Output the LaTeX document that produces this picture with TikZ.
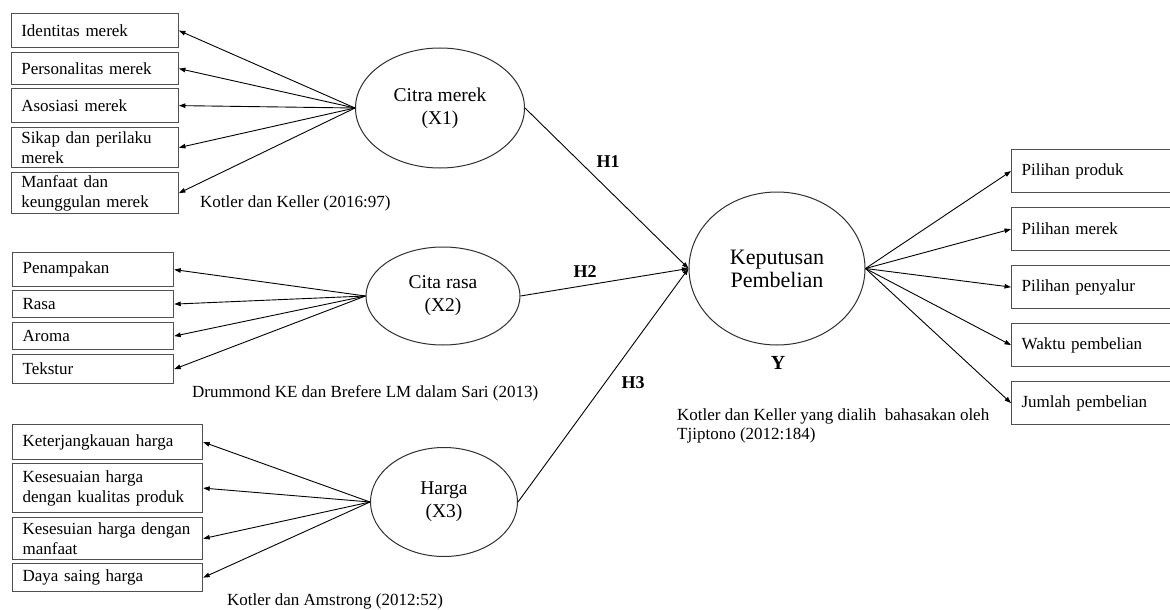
\documentclass[tikz,border=0pt]{standalone}
\usepackage{fontspec}
\setmainfont{Liberation Serif}
\usetikzlibrary{arrows.meta,shapes.geometric}
\definecolor{boxgray}{HTML}{505050}
\definecolor{ellgray}{HTML}{303030}
\tikzset{
  box/.style={draw=boxgray, line width=1.2pt, rectangle, inner xsep=10pt, inner ysep=0pt,
    anchor=north west, align=left, font=\fontsize{17}{20}\selectfont},
  latent/.style={draw=ellgray, line width=1pt, ellipse, inner sep=0pt, align=center,
    font=\fontsize{19.5}{23}\selectfont},
  arr/.style={line width=0.9pt, -{Triangle[length=6.5pt,width=4.5pt]}},
  cite/.style={inner sep=0pt, anchor=west, align=left, font=\fontsize{17}{18.5}\selectfont},
  hlab/.style={inner sep=0pt, font=\fontsize{18}{20}\selectfont\bfseries},
}
\begin{document}
\begin{tikzpicture}[x=1pt,y=-1pt]
\useasboundingbox (0,0) rectangle (1170,610);
\fill[white] (0,0) rectangle (1170,610);
% Group 1
\node[box, text width=147pt, minimum height=34pt] (i1) at (10.7,13) {Identitas merek};
\node[box, text width=147pt, minimum height=32pt] (i2) at (10.7,52) {Personalitas merek};
\node[box, text width=147pt, minimum height=34pt] (i3) at (10.7,88) {Asosiasi merek};
\node[box, text width=147pt, minimum height=40pt] (i4) at (10.7,127) {Sikap dan perilaku\\merek};
\node[box, text width=147pt, minimum height=41pt] (i5) at (10.7,172) {Manfaat dan\\keunggulan merek};
\node[latent, minimum width=169pt, minimum height=120pt] (c1) at (440,108) {Citra merek\\(X1)};
\foreach \b in {i1,i2,i3,i4,i5} \draw[arr] (c1.west) -- (\b.east);
\node[cite] (ct1) at (200,203) {Kotler dan Keller (2016:97)};
% Group 2
\node[box, text width=141pt, minimum height=34pt] (p1) at (12,252) {Penampakan};
\node[box, text width=141pt, minimum height=27pt] (p2) at (12,290) {Rasa};
\node[box, text width=141pt, minimum height=27pt] (p3) at (12,322) {Aroma};
\node[box, text width=141pt, minimum height=29pt] (p4) at (12,354) {Tekstur};
\node[latent, minimum width=154pt, minimum height=98pt] (c2) at (443,296) {Cita rasa\\(X2)};
\foreach \b in {p1,p2,p3,p4} \draw[arr] (c2.west) -- (\b.east);
\node[cite] (ct2) at (192,393) {Drummond KE dan Brefere LM dalam Sari (2013)};
% Group 3
\node[box, text width=170pt, minimum height=35pt] (h1) at (12,424) {Keterjangkauan harga};
\node[box, text width=170pt, minimum height=49pt] (h2) at (12,463) {Kesesuaian harga\\dengan kualitas produk};
\node[box, text width=170pt, minimum height=42pt] (h3) at (12,517) {Kesesuian harga dengan\\manfaat};
\node[box, text width=170pt, minimum height=28pt] (h4) at (12,563) {Daya saing harga};
\node[latent, minimum width=147pt, minimum height=109pt] (c3) at (444,502) {Harga\\(X3)};
\foreach \b in {h1,h2,h3,h4} \draw[arr] (c3.west) -- (\b.east);
\node[cite] (ct3) at (227,601) {Kotler dan Amstrong (2012:52)};
% Dependent
\node[latent, minimum width=176pt, minimum height=153pt, font=\fontsize{22}{23}\selectfont] (kp) at (777,268.5) {Keputusan\\Pembelian};
\draw[arr] (c1.east) -- (kp.west);
\draw[arr] (c2.east) -- (kp.west);
\draw[arr] (c3.east) -- (kp.west);
\node[hlab] (l1) at (608,162) {H1};
\node[hlab] (l2) at (585,272) {H2};
\node[hlab] (l3) at (633,383) {H3};
\node[hlab, font=\fontsize{20}{22}\selectfont\bfseries] (ly) at (778,363) {Y};
% Right boxes
\node[box, text width=150pt, minimum height=43pt] (r1) at (1011,149) {Pilihan produk};
\node[box, text width=150pt, minimum height=43pt] (r2) at (1011,207) {Pilihan merek};
\node[box, text width=150pt, minimum height=43pt] (r3) at (1011,265) {Pilihan penyalur};
\node[box, text width=150pt, minimum height=43pt] (r4) at (1011,323) {Waktu pembelian};
\node[box, text width=150pt, minimum height=43pt] (r5) at (1011,381) {Jumlah pembelian};
\foreach \b in {r1,r2,r3,r4,r5} \draw[arr] (kp.east) -- (\b.west);
\node[cite] (ct4) at (677,426) {Kotler dan Keller yang dialih\ \ bahasakan oleh\\Tjiptono (2012:184)};
\end{tikzpicture}
\end{document}
